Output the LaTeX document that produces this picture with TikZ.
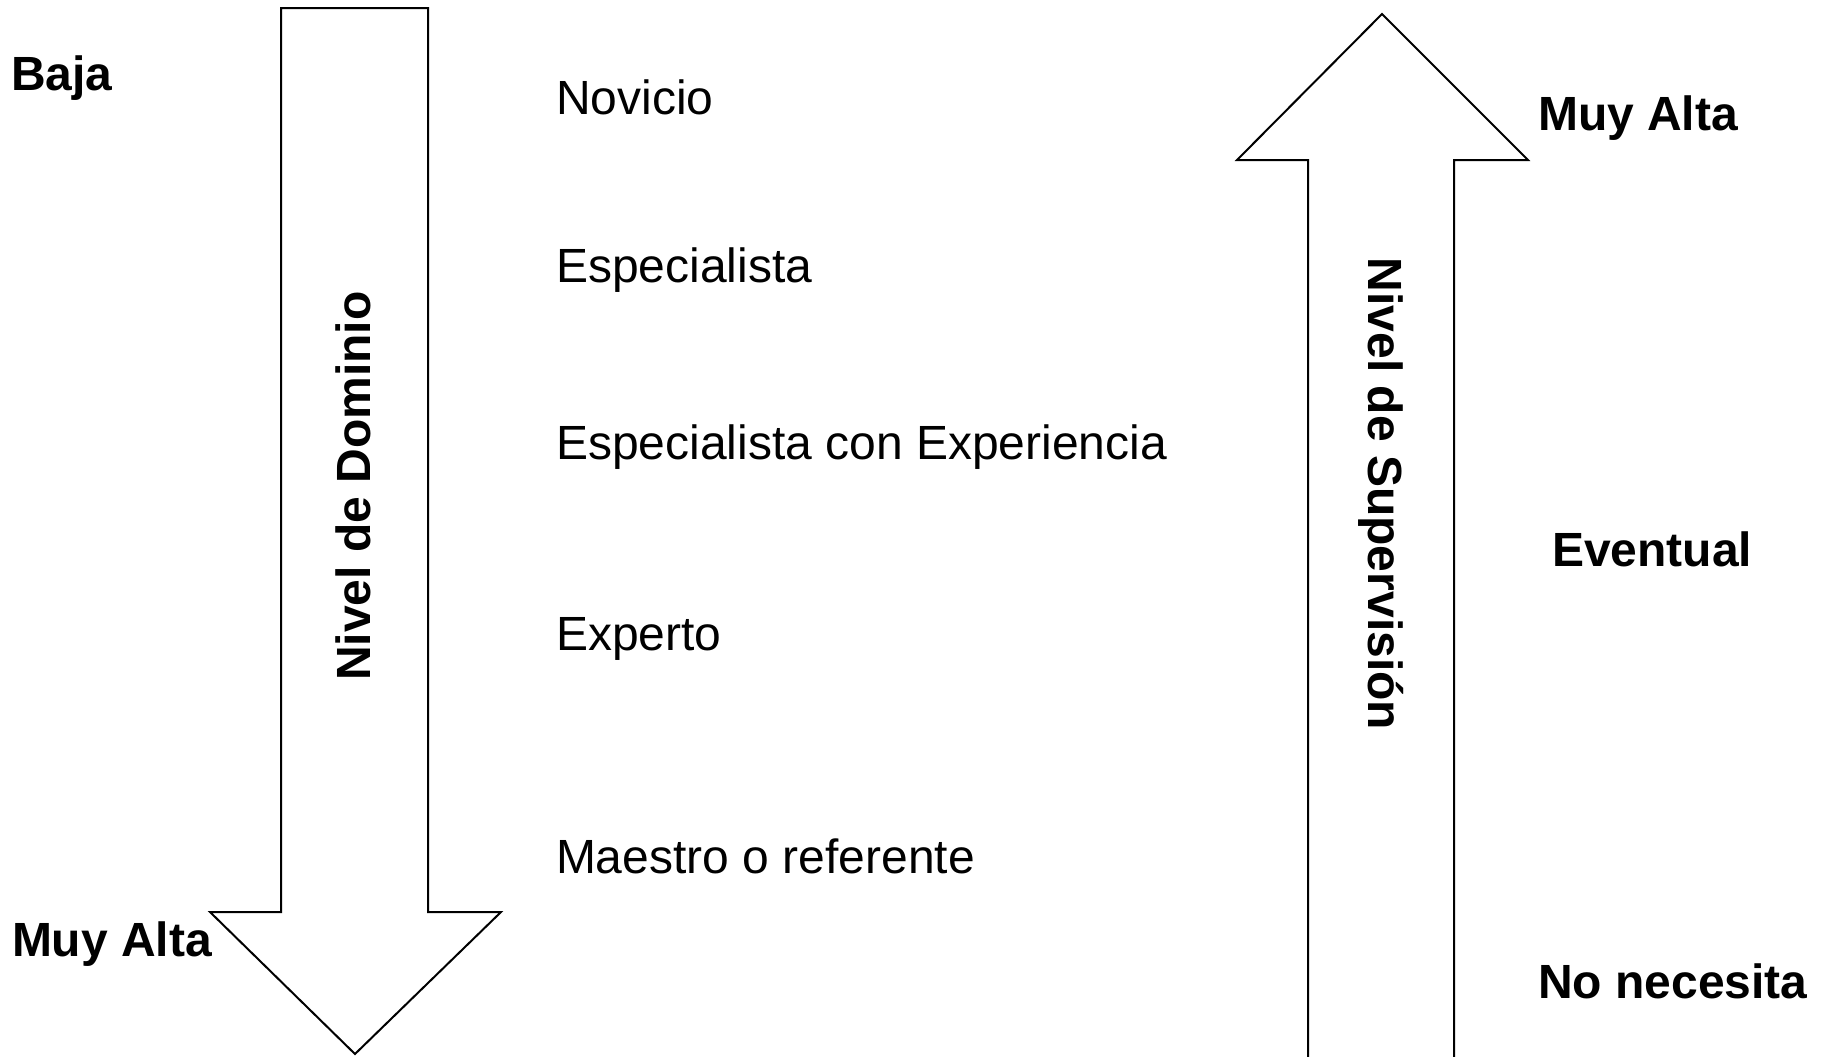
\documentclass[tikz,border=0pt]{standalone}
\usepackage{fontspec}
\setmainfont{Liberation Sans}
\usetikzlibrary{positioning}

\begin{document}
\begin{tikzpicture}[x=0.5pt,y=-0.5pt,line width=1pt,
    lvl/.style={anchor=base west,inner sep=0pt,font=\fontsize{24}{29}\selectfont},
    tag/.style={lvl,font=\fontsize{24}{29}\selectfont\bfseries},
    axis/.style={anchor=base,inner sep=0pt,font=\fontsize{24}{29}\selectfont\bfseries}]

    \useasboundingbox (0,0) rectangle (1821,1056);

    % flecha hacia abajo
    \draw (281,8) -- (428,8) -- (428,912) -- (501,912) -- (355,1054)
          -- (210,912) -- (281,912) -- cycle;
    % flecha hacia arriba
    \draw (1308,1060) -- (1308,160) -- (1237,160) -- (1382,14)
          -- (1528,160) -- (1454,160) -- (1454,1060);

    \path
    (370,486)  node[axis,rotate=90]  (dom) {Nivel de Dominio}
    (1368,494) node[axis,rotate=-90] (sup) {Nivel de Supervisión};

    \path
    (10,90)   node[tag] (baja)  {Baja}
    (11,956)  node[tag] (alta1) {Muy Alta};

    \path
    (555,114)   node[lvl] (nov) {Novicio}
    (555,282.5) node[lvl] (esp) {Especialista}
    (555,459)   node[lvl] (exp) {Especialista con Experiencia}
    (555,650.5) node[lvl] (xpt) {Experto}
    (555,873)   node[lvl] (mae) {Maestro o referente};

    \path
    (1537,130)  node[tag] (alta2) {Muy Alta}
    (1551,566)  node[tag] (even)  {Eventual}
    (1537,998)  node[tag] (nonec) {No necesita};

\end{tikzpicture}
\end{document}
